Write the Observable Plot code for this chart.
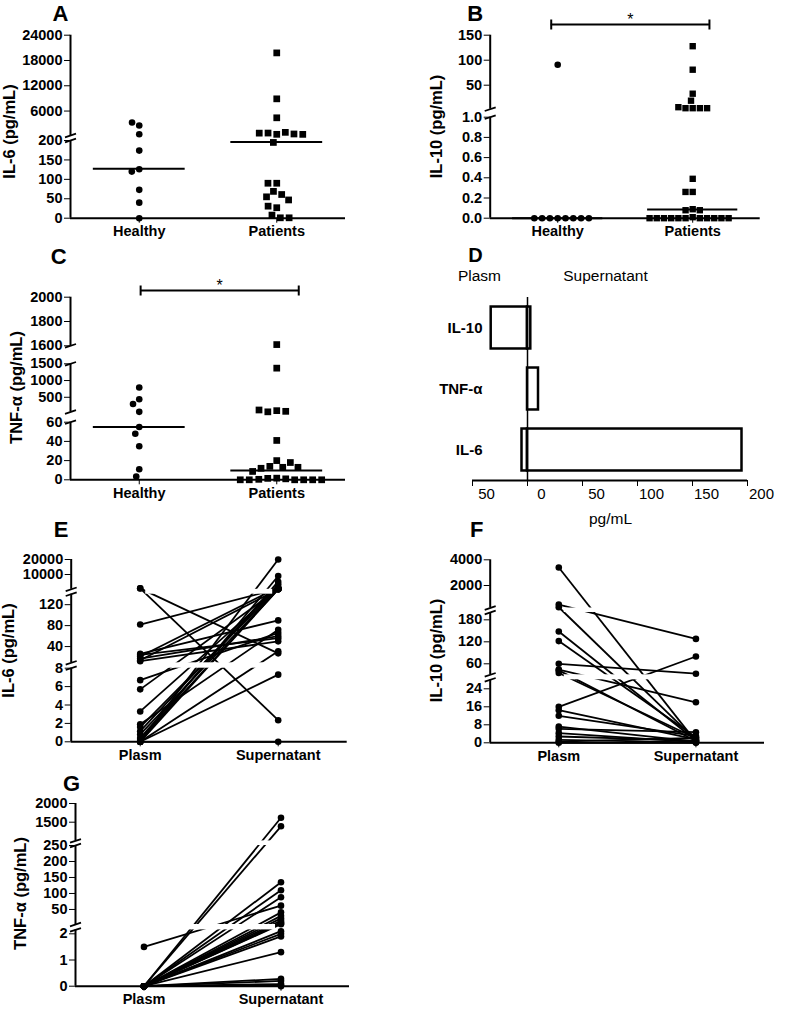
<!DOCTYPE html>
<html><head><meta charset="utf-8">
<script src="https://cdn.jsdelivr.net/npm/d3@7"></script>
<script src="https://cdn.jsdelivr.net/npm/@observablehq/plot@0.6"></script>
<style>
body{margin:0;background:#fff;}
#fig{position:relative;width:786px;height:1009px;overflow:hidden;background:#fff;}
</style></head><body><div id="fig"></div>
<script>
// ---------------- data ----------------
const groupCats = ["Healthy", "Patients"];
const pairCats = ["Plasm", "Supernatant"];

// A: IL-6
const il6Healthy = [2570, 3280, 510, 174, 126, 120, 73, 40, 0];
const il6Patients = [19800, 8900, 4400, 480, 780, 950, 560, 760, 470, 195, 90, 90, 69, 61, 55, 47, 27, 31, 8, 1, 1];
const il6Medians = [127, 196];
const il6Ticks = [0, 50, 100, 150, 200, 6000, 12000, 18000, 24000];

// B: IL-10
const il10Healthy = [91, 0, 0, 0, 0, 0, 0, 0, 0];
const il10Patients = [128, 81, 33, 19, 4, 4, 4, 4, 6, 0.39, 0.26, 0.26, 0.089, 0.079, 0.079, 0.01, 0, 0, 0, 0, 0, 0, 0, 0, 0, 0, 0];
const il10Medians = [0, 0.086];
const il10Ticks = [0, 0.2, 0.4, 0.6, 0.8, 1, 50, 100, 150];

// C: TNF-alpha
const tnfHealthy = [790, 440, 300, 65, 55, 48, 35, 11, 3.5];
const tnfPatients = [1610, 1370, 100, 65, 80, 120, 41, 20, 14, 13, 18, 12, 13, 8.7, 1.7, 1.5, 1, 0.5, 0, 0, 0, 0, 0, 0];
const tnfMedians = [55, 9.8];
const tnfTicks = [0, 20, 40, 60, 500, 1000, 1500, 1600, 1800, 2000];

// D: plasm (negative side) vs supernatant
const cytokines = ["IL-10", "TNF-α", "IL-6"];
const plasmD = [-33, 0, -5];
const supernD = [3, 10, 195];
const dTicks = [-50, 0, 50, 100, 150, 200];

// E: IL-6 paired
const il6Plasm = [800, 750, 82, 26, 24, 21, 17, 14, 12, 6.7, 5.7, 3.3, 1.9, 1.6, 1.15, 0.8, 0.4, 0.2, 0, 0, 0, 0, 0, 0];
const il6Super = [27, 2.35, 400, 90, 56, 1500, 60, 200, 50, 66, 300, 600, 72, 1000, 3500, 250, 5200, 180, 9000, 20000, 160, 7.3, 31, 0];
const il6PairTicks = [0, 2, 4, 6, 8, 40, 80, 120, 10000, 20000];

// F: IL-10 paired
const il10Plasm = [3400, 520, 310, 148, 122, 60, 44, 42, 35, 16, 14.5, 12, 7.2, 6.2, 4.3, 2.8, 1.3, 0.5, 0];
const il10Super = [0.5, 128, 1.2, 1.0, 2.5, 33, 18, 0.8, 2, 80, 1.5, 3, 0.5, 4.7, 0.3, 1, 0.2, 2.2, 0];
const il10PairTicks = [0, 8, 16, 24, 60, 120, 180, 2000, 4000];

// G: TNF-alpha paired
const tnfPlasm = [0, 0, 0, 0, 0, 1.5, 0, 0, 0, 0, 0, 0, 0, 0, 0, 0, 0, 0, 0, 0, 0, 0];
const tnfSuper = [1620, 1390, 135, 110, 88, 62, 41, 30, 22, 15, 10, 6, 4, 2.1, 2.0, 1.9, 1.3, 0.28, 0.2, 0.08, 0.03, 0];
const tnfPairTicks = [0, 1, 2, 50, 100, 150, 200, 250, 1500, 2000];

// ---------------- layout ----------------
const W = 786, H = 1009;
const FONT = "'Liberation Sans', Arial, Helvetica, sans-serif";
const fig = document.getElementById("fig");

function mount(opts) {
  const svg = Plot.plot({
    width: W, height: H, ...opts,
    style: {fontFamily: FONT, fontSize: "14.5px", fontWeight: "bold", background: "transparent", overflow: "visible", color: "black"}
  });
  svg.style.position = "absolute";
  svg.style.left = "0px";
  svg.style.top = "0px";
  svg.style.background = "transparent";
  fig.appendChild(svg);
}

// piecewise (broken) axis: segments [lo, hi, pixelLo, pixelHi]
function pieces(segs) {
  const domain = [], range = [];
  let prev = -Infinity;
  for (const [lo, hi, p0, p1] of segs) {
    const a = lo <= prev ? prev + 1e-4 : lo;
    domain.push(a, hi); range.push(p0, p1); prev = hi;
  }
  return {domain, range, top: Math.min(...range), bottom: Math.max(...range)};
}

const breakSym = {draw(ctx) { ctx.moveTo(-5.5, 1.8); ctx.lineTo(5.5, -1.8); }};
const vSym = {draw(ctx) { ctx.moveTo(0, -5); ctx.lineTo(0, 5); }};

function frameOpts(cfg, P) {
  return {marginLeft: cfg.left, marginRight: W - cfg.right, marginTop: P.top, marginBottom: H - P.bottom};
}
function scaleOpts(cfg, P) {
  const n = cfg.cats.length;
  return {
    x: {type: "linear", domain: [0, 1], ticks: cfg.cats.map((c, i) => (i + 0.5) / n),
        tickFormat: d => cfg.cats[Math.round(d * n - 0.5)], tickSize: 5, tickPadding: 3, label: null},
    y: {type: "linear", domain: P.domain, range: P.range, ticks: cfg.ticks,
        tickFormat: cfg.fmt || (d => String(d)), tickSize: 6, tickPadding: 2, label: null}
  };
}
function axisMarks(P) {
  const marks = [];
  for (let k = 0; k < P.domain.length; k += 2) {
    const lo = P.domain[k], hi = P.domain[k + 1];
    marks.push(Plot.ruleX([0], {y1: () => lo, y2: () => hi, stroke: "black", strokeWidth: 2}));
  }
  marks.push(Plot.dot(P.domain.slice(1, -1), {x: () => 0, y: d => d, symbol: breakSym, r: 5, stroke: "black", strokeWidth: 1.8, fill: "none"}));
  marks.push(Plot.ruleY([P.domain[0]], {stroke: "black", strokeWidth: 2}));
  return marks;
}
function labelMarks(cfg, P) {
  return [
    Plot.text([cfg.letter[0]], {frameAnchor: "top-left", dx: cfg.letter[1] - cfg.left, dy: cfg.letter[2] - P.top,
      fontSize: 22, fontWeight: "bold", textAnchor: "middle", lineAnchor: "middle"}),
    Plot.text([cfg.title[0]], {frameAnchor: "top-left", dx: cfg.title[1] - cfg.left, dy: cfg.title[2] - P.top,
      rotate: -90, fontSize: 16.5, fontWeight: "bold", textAnchor: "middle", lineAnchor: "middle"})
  ];
}
function bracketMarks(P, b) {
  const yMax = P.domain[P.domain.length - 1];
  return [
    Plot.ruleY([yMax], {x1: () => b.x[0], x2: () => b.x[1], dy: b.dy, stroke: "black", strokeWidth: 2}),
    Plot.dot(b.x, {x: d => d, y: () => yMax, dy: b.dy, symbol: vSym, r: 5, stroke: "black", strokeWidth: 2, fill: "none"}),
    Plot.text(["*"], {x: () => (b.x[0] + b.x[1]) / 2, y: () => yMax, dy: b.starDy, fontSize: 16, fontWeight: "normal"})
  ];
}

function scatterPanel(cfg, groups, medians, bracket) {
  const P = pieces(cfg.segs);
  const n = cfg.cats.length;
  const xs = cfg.cats.map((c, i) => (i + 0.5) / n);
  const marks = [...axisMarks(P)];
  medians.forEach((m, i) => marks.push(Plot.ruleY([m], {x1: () => xs[i] - 0.167, x2: () => xs[i] + 0.167, stroke: "black", strokeWidth: 2})));
  if (bracket) marks.push(...bracketMarks(P, bracket));
  marks.push(...labelMarks(cfg, P));
  mount({...frameOpts(cfg, P), ...scaleOpts(cfg, P), marks});
  // dots, spread horizontally around each category like a scatter dot plot
  groups.forEach((vals, i) => {
    const cx = cfg.left + xs[i] * (cfg.right - cfg.left);
    const g = cfg.dots[i];
    mount({
      marginLeft: cx - 60, marginRight: W - cx - 60, marginTop: P.top, marginBottom: H - P.bottom,
      y: {type: "linear", domain: P.domain, range: P.range, axis: null},
      marks: [Plot.dot(vals, Plot.dodgeX({anchor: "middle", padding: g.pad}, {y: d => d, r: g.r, symbol: g.sym, fill: "black", stroke: "none"}))]
    });
  });
}

function pairPanel(cfg, plasm, sup) {
  const P = pieces(cfg.segs);
  const n = cfg.cats.length;
  const xs = cfg.cats.map((c, i) => (i + 0.5) / n);
  const idx = d3.range(plasm.length);
  const gaps = [];
  for (let k = 1; k < P.domain.length - 1; k += 2) gaps.push([P.domain[k], P.domain[k + 1]]);
  const marks = [
    ...axisMarks(P),
    Plot.link(idx, {x1: () => xs[0], x2: () => xs[1], y1: i => plasm[i], y2: i => sup[i], stroke: "black", strokeWidth: 1.8}),
    Plot.rect(gaps, {x1: () => xs[0] + 0.02, x2: () => xs[1] - 0.02, y1: g => g[0], y2: g => g[1], fill: "white"}),
    Plot.dot(plasm, {x: () => xs[0], y: d => d, r: 3.3, fill: "black"}),
    Plot.dot(sup, {x: () => xs[1], y: d => d, r: 3.3, fill: "black"}),
    ...labelMarks(cfg, P)
  ];
  mount({...frameOpts(cfg, P), ...scaleOpts(cfg, P), marks});
}

const circ = {sym: "circle", r: 3.3, pad: 1.2};
const sq = {sym: "square", r: 3.8, pad: 1.2};

// A
scatterPanel({
  cats: groupCats, left: 70, right: 345,
  segs: [[0, 200, 217.7, 140], [200, 24000, 135, 34.7]],
  ticks: il6Ticks, letter: ["A", 60, 13], title: ["IL-6 (pg/mL)", 9, 131],
  dots: [circ, sq]
}, [il6Healthy, il6Patients], il6Medians, null);

// B
scatterPanel({
  cats: groupCats, left: 489.7, right: 759.7,
  segs: [[0, 1, 217.7, 116.7], [2, 150, 108.7, 34.7]],
  ticks: il10Ticks, fmt: d => d <= 1 ? d.toFixed(1) : String(d),
  letter: ["B", 474.7, 13], title: ["IL-10 (pg/mL)", 436, 126],
  dots: [circ, {sym: "square", r: 3.6, pad: 0}]
}, [il10Healthy, il10Patients], il10Medians, {x: [0.226, 0.812], dy: -10.7, starDy: -15.7});

// C
scatterPanel({
  cats: groupCats, left: 70, right: 345,
  segs: [[0, 60, 479.3, 421.7], [60, 1500, 411.5, 363.3], [1600, 2000, 345.3, 296.7]],
  ticks: tnfTicks, letter: ["C", 58.3, 256.7], title: ["TNF-α (pg/mL)", 16, 387],
  dots: [circ, {sym: "square", r: 3.8, pad: 1.4}]
}, [tnfHealthy, tnfPatients], tnfMedians, {x: [0.255, 0.83], dy: -6.7, starDy: -11.2});

// D
(function () {
  const n = cytokines.length;
  const idx = d3.range(n);
  const pad = 0.156;
  mount({
    marginLeft: 472, marginRight: W - 747, marginTop: 297, marginBottom: H - 480,
    x: {type: "linear", domain: [-50, 200], ticks: dTicks, tickSize: 6, tickFormat: () => "", label: null},
    y: {type: "linear", domain: [n, 0], axis: null},
    marks: [
      Plot.rectX(idx, {x1: () => 0, x2: i => plasmD[i], y1: i => i + pad, y2: i => i + 1 - pad, fill: "white", stroke: "black", strokeWidth: 2.5}),
      Plot.rectX(idx, {x1: () => 0, x2: i => supernD[i], y1: i => i + pad, y2: i => i + 1 - pad, fill: "white", stroke: "black", strokeWidth: 2.5}),
      Plot.ruleX([0], {stroke: "black", strokeWidth: 1.5}),
      Plot.ruleY([n], {stroke: "black", strokeWidth: 2}),
      Plot.text(cytokines, {y: (d, i) => i + 0.5, frameAnchor: "left", textAnchor: "end", dx: 10, fontSize: 15, fontWeight: "bold"}),
      Plot.text(dTicks, {x: d => d, text: d => String(Math.abs(d)), frameAnchor: "bottom", dy: 18.5, dx: 14, fontSize: 15, fontWeight: "normal"}),
      Plot.text(["Plasm"], {frameAnchor: "top-left", dx: 7, dy: -21, fontSize: 15.5, fontWeight: "normal", textAnchor: "middle", lineAnchor: "middle"}),
      Plot.text(["Supernatant"], {frameAnchor: "top-left", dx: 133, dy: -21, fontSize: 15.5, fontWeight: "normal", textAnchor: "middle", lineAnchor: "middle"}),
      Plot.text(["pg/mL"], {frameAnchor: "bottom-left", dx: 138, dy: 39, fontSize: 15.5, fontWeight: "normal", textAnchor: "middle", lineAnchor: "middle"}),
      Plot.text(["D"], {frameAnchor: "top-left", dx: 3, dy: -42, fontSize: 20, fontWeight: "bold", textAnchor: "middle", lineAnchor: "middle"})
    ]
  });
})();

// E
pairPanel({
  cats: pairCats, left: 70.7, right: 346.7,
  segs: [[0, 8, 741.3, 667.7], [9, 140, 662.3, 593.7], [150, 20000, 588.8, 559]],
  ticks: il6PairTicks, letter: ["E", 60.7, 529.3], title: ["IL-6 (pg/mL)", 8.5, 650]
}, il6Plasm, il6Super);

// F
pairPanel({
  cats: pairCats, left: 489.7, right: 764,
  segs: [[0, 28, 742.3, 679.3], [30, 200, 674.3, 612], [250, 4000, 607.5, 559.3]],
  ticks: il10PairTicks, letter: ["F", 476.3, 529.3], title: ["IL-10 (pg/mL)", 436, 650]
}, il10Plasm, il10Super);

// G
pairPanel({
  cats: pairCats, left: 75, right: 349,
  segs: [[0, 2.15, 985.7, 929.4], [3, 250, 924, 845], [1000, 2000, 840.4, 803]],
  ticks: tnfPairTicks, letter: ["G", 71, 783], title: ["TNF-α (pg/mL)", 20, 893]
}, tnfPlasm, tnfSuper);
</script>
</body></html>
